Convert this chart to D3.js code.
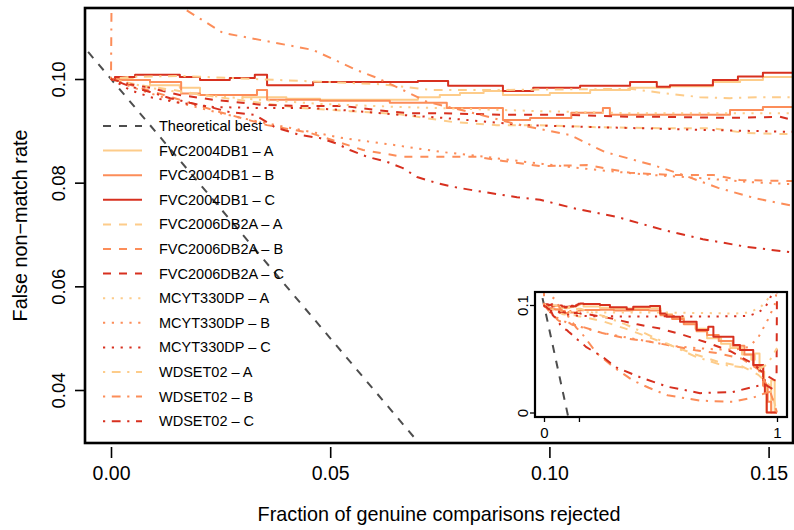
<!DOCTYPE html>
<html><head><meta charset="utf-8">
<script src="https://cdn.jsdelivr.net/npm/d3@7"></script>
<style>
body{margin:0;background:#fff}
text{font-family:"Liberation Sans",Arial,Helvetica,sans-serif;fill:#000}
</style>
</head><body>
<svg id="chart" width="794" height="530"></svg>
<script>
// ---------------- data ----------------
const datasets = ["FVC2004DB1", "FVC2006DB2A", "MCYT330DP", "WDSET02"];
const variants = ["A", "B", "C"];
const xTicks = [0, 0.05, 0.10, 0.15];
const yTicks = [0.04, 0.06, 0.08, 0.10];
const insetXTicks = [0, 0.15, 1];
const insetXLabels = ["0", "", "1"];
const insetYTicks = [0, 0.1];
const insetYLabels = ["0", "0.1"];

const theoreticalBest = [[-0.05, 0.15], [0.15, -0.05]];

const fvc04A = [[0,0.1],[0.005,0.0998],[0.0089,0.0988],[0.0157,0.0983],[0.0203,0.0969],[0.030,0.0965],[0.040,0.0962],[0.0477,0.0960],[0.0636,0.0960],[0.070,0.0965],[0.075,0.0969],[0.0796,0.0973],[0.085,0.0977],[0.0894,0.0969],[0.1001,0.0973],[0.1093,0.0979],[0.1184,0.0983],[0.1275,0.0986],[0.1373,0.0994],[0.1435,0.0998],[0.1487,0.1004],[0.1556,0.1010],
  [0.17,0.0985],[0.24,0.0975],[0.30,0.0968],[0.38,0.0972],[0.45,0.0969],[0.50,0.0915],[0.55,0.0885],[0.60,0.0830],[0.65,0.0780],[0.70,0.0690],[0.76,0.0640],[0.80,0.0600],[0.85,0.0540],[0.89,0.0490],[0.905,0.0550],[0.925,0.0380],[0.945,0.0240],[0.955,0.0],[0.975,0.0300],[0.99,0.0],[1.0,0.0]];
const fvc04B = [[0,0.1],[0.0021,0.0998],[0.0089,0.0994],[0.0160,0.0972],[0.0203,0.0969],[0.0333,0.0979],[0.0356,0.0960],[0.0477,0.0958],[0.0636,0.0954],[0.0766,0.0944],[0.0894,0.0921],[0.0956,0.0925],[0.1050,0.0935],[0.1122,0.0944],[0.1138,0.0931],[0.1259,0.0931],[0.1412,0.0940],[0.1487,0.0946],[0.1556,0.0952],
  [0.17,0.0953],[0.24,0.0955],[0.30,0.0948],[0.38,0.0953],[0.45,0.0950],[0.50,0.0905],[0.55,0.0870],[0.60,0.0820],[0.655,0.0755],[0.70,0.0720],[0.75,0.0665],[0.81,0.0620],[0.86,0.0540],[0.90,0.0430],[0.94,0.0250],[0.96,0.0100],[0.975,0.0],[1.0,0.0]];
const fvc04C = [[0,0.1],[0.0009,0.1004],[0.0055,0.1008],[0.0157,0.1004],[0.0203,0.0998],[0.0271,0.1002],[0.0328,0.1008],[0.0356,0.0988],[0.0461,0.0994],[0.0614,0.0994],[0.0700,0.0996],[0.0769,0.0987],[0.0894,0.0977],[0.0963,0.0983],[0.1070,0.0987],[0.1184,0.0994],[0.1245,0.0985],[0.1275,0.0988],[0.1373,0.0998],[0.1430,0.1005],[0.1487,0.1012],[0.1556,0.1014],
  [0.169,0.1009],[0.240,0.1000],[0.283,0.0978],[0.355,0.0960],[0.383,0.0984],[0.455,0.0991],[0.498,0.0922],[0.526,0.0891],[0.584,0.0845],[0.655,0.0767],[0.705,0.0798],[0.727,0.0705],[0.813,0.0628],[0.841,0.0581],[0.898,0.0442],[0.941,0.0302],[0.948,0.0178],[0.956,0.0],[1.0,0.0]];

const fvc06A = [[0,0.1],[0.0066,0.0988],[0.0141,0.0979],[0.0226,0.0967],[0.0340,0.0954],[0.0431,0.0944],[0.0545,0.0938],[0.0659,0.0932],[0.0780,0.0917],[0.0880,0.0911],[0.0979,0.0911],[0.1109,0.0907],[0.1259,0.0905],[0.1373,0.0905],[0.1446,0.0896],[0.1526,0.0894],[0.1556,0.0894],
  [0.25,0.0850],[0.35,0.0780],[0.45,0.0700],[0.55,0.0620],[0.65,0.0540],[0.75,0.0470],[0.85,0.0430],[0.92,0.0350],[0.97,0.0250],[1.0,0.0]];
const fvc06B = [[0,0.1],[0.0066,0.0983],[0.0157,0.0960],[0.0249,0.0936],[0.0356,0.0911],[0.0454,0.0896],[0.0575,0.0863],[0.0666,0.0850],[0.0835,0.0850],[0.0894,0.0842],[0.0979,0.0832],[0.1086,0.0834],[0.1184,0.0819],[0.1275,0.0815],[0.1373,0.0815],[0.1435,0.0805],[0.1556,0.0803],
  [0.25,0.0740],[0.35,0.0690],[0.45,0.0660],[0.55,0.0620],[0.65,0.0580],[0.75,0.0550],[0.85,0.0500],[0.92,0.0400],[0.97,0.0200],[1.0,0.0]];
const fvc06C = [[0,0.1],[0.0043,0.0990],[0.0089,0.0983],[0.0157,0.0969],[0.0233,0.0960],[0.0347,0.0950],[0.0431,0.0948],[0.0529,0.0948],[0.0607,0.0940],[0.0682,0.0934],[0.0757,0.0934],[0.0887,0.0931],[0.1031,0.0931],[0.1184,0.0927],[0.1259,0.0927],[0.1412,0.0925],[0.1526,0.0927],[0.1556,0.0921],
  [0.2,0.0910],[0.3,0.0870],[0.4,0.0820],[0.5,0.0780],[0.6,0.0720],[0.7,0.0650],[0.8,0.0570],[0.9,0.0450],[0.95,0.0350],[0.99,0.0300],[0.998,0.0300],[1.0,0.1200]];

const mcytA = [[0,0.1],[0.0089,0.0983],[0.0203,0.0969],[0.0340,0.0960],[0.0477,0.0952],[0.0659,0.0946],[0.0819,0.0942],[0.0979,0.0938],[0.1184,0.0934],[0.1343,0.0934],[0.1556,0.0934],
  [0.3,0.0930],[0.5,0.0930],[0.7,0.0925],[0.82,0.0920],[0.88,0.0930],[0.93,0.0980],[0.97,0.1080],[0.99,0.1150]];
const mcytB = [[0,0.1],[0.0066,0.0979],[0.0157,0.0954],[0.0249,0.0934],[0.0340,0.0917],[0.0431,0.0902],[0.0529,0.0886],[0.0643,0.0873],[0.0757,0.0859],[0.0871,0.0848],[0.0985,0.0836],[0.1115,0.0824],[0.1229,0.0815],[0.1343,0.0809],[0.1458,0.0801],[0.1556,0.0797],
  [0.25,0.0740],[0.35,0.0700],[0.45,0.0660],[0.55,0.0620],[0.65,0.0600],[0.75,0.0585],[0.82,0.0585],[0.88,0.0610],[0.92,0.0700],[0.96,0.0860],[0.99,0.1000],[1.0,0.1150]];
const mcytC = [[0,0.1],[0.0043,0.0979],[0.0089,0.0965],[0.0157,0.0954],[0.0233,0.0946],[0.0340,0.0944],[0.0454,0.0944],[0.0529,0.0940],[0.0659,0.0931],[0.0757,0.0925],[0.0865,0.0917],[0.0940,0.0911],[0.1115,0.0907],[0.1343,0.0902],[0.1556,0.0898],
  [0.25,0.0895],[0.4,0.0893],[0.55,0.0895],[0.7,0.0893],[0.82,0.0895],[0.88,0.0900],[0.92,0.0930],[0.95,0.0980],[0.97,0.1060],[0.985,0.1150]];

const wdsetA = [[0,0.1],[0.0043,0.1004],[0.0157,0.1006],[0.0271,0.1002],[0.0385,0.0998],[0.0500,0.0994],[0.0614,0.0990],[0.0728,0.0979],[0.0903,0.0979],[0.1184,0.0981],[0.1259,0.0973],[0.1343,0.0965],[0.1412,0.0963],[0.1480,0.0965],[0.1556,0.0965],
  [0.25,0.0900],[0.35,0.0820],[0.45,0.0720],[0.55,0.0620],[0.65,0.0520],[0.75,0.0450],[0.85,0.0420],[0.92,0.0400],[0.96,0.0450],[1.0,0.0600]];
const wdsetB = [[0,0.1],[0.0002,0.1250],[0.0080,0.1185],[0.0164,0.1137],[0.0255,0.1089],[0.0461,0.1056],[0.0561,0.1017],[0.0607,0.1002],[0.0675,0.0975],[0.0721,0.0956],[0.0819,0.0936],[0.0933,0.0911],[0.1047,0.0892],[0.1127,0.0859],[0.1236,0.0834],[0.1298,0.0817],[0.1385,0.0790],[0.1469,0.0770],[0.1556,0.0755],
  [0.227,0.0550],[0.30,0.0420],[0.38,0.0300],[0.45,0.0230],[0.53,0.0160],[0.67,0.0110],[0.81,0.0100],[0.90,0.0140],[0.95,0.0180],[0.98,0.0200]];
const wdsetC = [[0,0.1],[0.0043,0.0986],[0.0089,0.0975],[0.0135,0.0963],[0.0180,0.0954],[0.0226,0.0946],[0.0271,0.0936],[0.0328,0.0931],[0.0374,0.0907],[0.0431,0.0892],[0.0477,0.0886],[0.0516,0.0875],[0.0545,0.0863],[0.0584,0.0850],[0.0630,0.0840],[0.0666,0.0828],[0.0698,0.0811],[0.0744,0.0799],[0.0780,0.0792],[0.0835,0.0784],[0.0880,0.0778],[0.0926,0.0772],[0.0979,0.0767],[0.1054,0.0751],[0.1154,0.0734],[0.1259,0.0709],[0.1350,0.0691],[0.1451,0.0676],[0.1549,0.0666],
  [0.18,0.0610],[0.25,0.0520],[0.31,0.0420],[0.41,0.0330],[0.53,0.0240],[0.67,0.0180],[0.81,0.0190],[0.90,0.0240],[0.95,0.0260],[0.98,0.0220]];

// ---------------- styles ----------------
const variantColors = ["#fdcc8a", "#fc8d59", "#d7301f"];
const datasetDash = [null, "8,8", "2.2,6.6", "2.2,6.6,8.8,6.6"];
const theoColor = "#4d4d4d";
const seriesData = [fvc04A, fvc04B, fvc04C, fvc06A, fvc06B, fvc06C, mcytA, mcytB, mcytC, wdsetA, wdsetB, wdsetC];

const series = [];
datasets.forEach((ds, i) => variants.forEach((v, j) => {
  series.push({name: ds + " \u2013 " + v, data: seriesData[i*3+j], color: variantColors[j], dash: datasetDash[i], step: i === 0});
}));

// ---------------- layout ----------------
const svg = d3.select("#chart");
const box = {l: 85, r: 793, t: 8, b: 443};
const x = d3.scaleLinear().domain([0, 0.15]).range([111, 768.6]);
const y = d3.scaleLinear().domain([0.04, 0.10]).range([390, 79]);

const defs = svg.append("defs");
defs.append("clipPath").attr("id", "clipMain").append("rect")
  .attr("x", box.l).attr("y", box.t).attr("width", box.r - box.l).attr("height", box.b - box.t);

function drawSeries(g, xs, ys) {
  g.append("path").datum(theoreticalBest)
    .attr("d", d3.line().x(d => xs(d[0])).y(d => ys(d[1])))
    .attr("fill", "none").attr("stroke", theoColor).attr("stroke-width", 2).attr("stroke-dasharray", "8,8");
  series.forEach(s => {
    const line = d3.line().x(d => xs(d[0])).y(d => ys(d[1])).curve(s.step ? d3.curveStepAfter : d3.curveLinear);
    g.append("path").datum(s.data).attr("d", line)
      .attr("fill", "none").attr("stroke", s.color).attr("stroke-width", 2)
      .attr("stroke-linejoin", "round")
      .attr("stroke-dasharray", s.dash);
  });
}

const gMain = svg.append("g").attr("clip-path", "url(#clipMain)");
drawSeries(gMain, x, y);

// legend
const legend = svg.append("g");
const legendItems = [{name: "Theoretical best", color: theoColor, dash: "8,8"}].concat(series);
legendItems.forEach((s, i) => {
  const yy = 126 + i * 24.6;
  legend.append("line").attr("x1", 103).attr("x2", 142).attr("y1", yy).attr("y2", yy)
    .attr("stroke", s.color).attr("stroke-width", 2).attr("stroke-dasharray", s.dash);
  legend.append("text").attr("x", 159).attr("y", yy).attr("dy", "0.35em")
    .style("font-size", "14.5px").text(s.name);
});

// main box
svg.append("rect").attr("x", box.l).attr("y", box.t).attr("width", box.r - box.l).attr("height", box.b - box.t)
  .attr("fill", "none").attr("stroke", "#000").attr("stroke-width", 2.6);

// axes
const xAxis = svg.append("g").attr("transform", "translate(0,447)")
  .call(d3.axisBottom(x).tickValues(xTicks).tickSize(11).tickPadding(8).tickFormat(d3.format(".2f")));
xAxis.select(".domain").remove();
xAxis.selectAll(".tick line").attr("stroke", "#000").attr("stroke-width", 1.6);
xAxis.selectAll(".tick text").style("font-size", "19.5px").attr("font-family", null);

const yAxis = svg.append("g").attr("transform", "translate(" + box.l + ",0)")
  .call(d3.axisLeft(y).tickValues(yTicks).tickSize(10).tickFormat(d3.format(".2f")));
yAxis.select(".domain").remove();
yAxis.selectAll(".tick line").attr("stroke", "#000").attr("stroke-width", 1.6);
yAxis.selectAll(".tick text").attr("transform", "rotate(-90)").attr("x", 0).attr("y", -20).attr("dy", 0)
  .attr("text-anchor", "middle").style("font-size", "18.5px").attr("font-family", null);

svg.append("text").attr("x", (box.l + box.r) / 2).attr("y", 521).attr("text-anchor", "middle")
  .style("font-size", "19.8px").text("Fraction of genuine comparisons rejected");
svg.append("text").attr("transform", "translate(27," + ((box.t + box.b) / 2) + ") rotate(-90)")
  .attr("text-anchor", "middle").style("font-size", "19.8px").text("False non\u2212match rate");

// ---------------- inset ----------------
const ib = {l: 535, r: 787, t: 292, b: 417};
const xi = d3.scaleLinear().domain([0, 1]).range([544, 777]);
const yi = d3.scaleLinear().domain([0, 0.1]).range([412.5, 305]);
defs.append("clipPath").attr("id", "clipInset").append("rect")
  .attr("x", ib.l).attr("y", ib.t).attr("width", ib.r - ib.l).attr("height", ib.b - ib.t);
svg.append("rect").attr("x", ib.l).attr("y", ib.t).attr("width", ib.r - ib.l).attr("height", ib.b - ib.t).attr("fill", "#fff");
const gIn = svg.append("g").attr("clip-path", "url(#clipInset)");
drawSeries(gIn, xi, yi);
svg.append("rect").attr("x", ib.l).attr("y", ib.t).attr("width", ib.r - ib.l).attr("height", ib.b - ib.t)
  .attr("fill", "none").attr("stroke", "#000").attr("stroke-width", 2.2);

const xiAxis = svg.append("g").attr("transform", "translate(0," + ib.b + ")")
  .call(d3.axisBottom(xi).tickValues(insetXTicks).tickSize(5).tickPadding(5).tickFormat((d, i) => insetXLabels[i]));
xiAxis.select(".domain").remove();
xiAxis.selectAll(".tick line").attr("stroke", "#000").attr("stroke-width", 1.3);
xiAxis.selectAll(".tick text").style("font-size", "15px").attr("font-family", null);

const yiAxis = svg.append("g").attr("transform", "translate(" + ib.l + ",0)")
  .call(d3.axisLeft(yi).tickValues(insetYTicks).tickSize(5).tickFormat((d, i) => insetYLabels[i]));
yiAxis.select(".domain").remove();
yiAxis.selectAll(".tick line").attr("stroke", "#000").attr("stroke-width", 1.3);
yiAxis.selectAll(".tick text").attr("transform", "rotate(-90)").attr("x", 0).attr("y", -7).attr("dy", 0)
  .attr("text-anchor", "middle").style("font-size", "15px").attr("font-family", null);
</script>
</body></html>
